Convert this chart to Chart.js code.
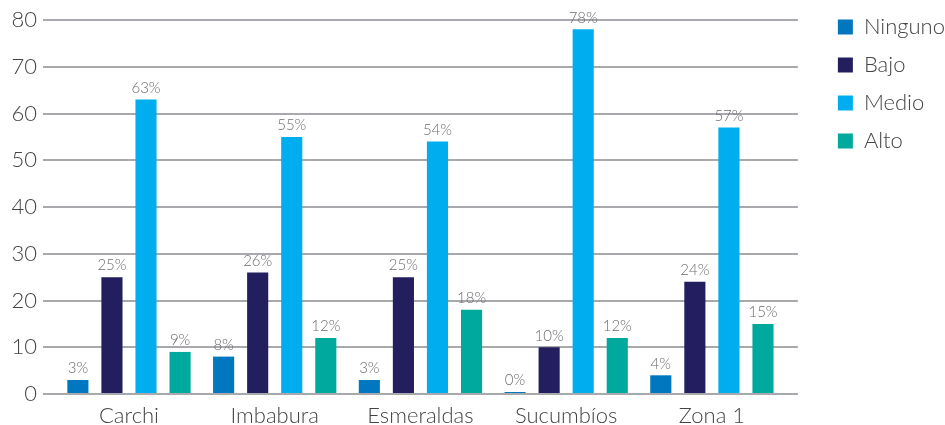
<!DOCTYPE html>
<html>
<head>
<meta charset="utf-8">
<script src="https://cdn.jsdelivr.net/npm/chart.js@4.4.1/dist/chart.umd.min.js"></script>
<style>
  html, body { margin: 0; padding: 0; background: #fff; }
  #wrap { width: 945px; height: 425px; }
</style>
</head>
<body>
<div id="wrap"><canvas id="c" width="945" height="425"></canvas></div>
<script>
// Provinces of Zona 1 and the share of each level (%)
const categories = ['Carchi', 'Imbabura', 'Esmeraldas', 'Sucumbíos', 'Zona 1'];
const ninguno = [3, 8, 3, 0, 4];
const bajo    = [25, 26, 25, 10, 24];
const medio   = [63, 55, 54, 78, 57];
const alto    = [9, 12, 18, 12, 15];
const yTicks  = [0, 10, 20, 30, 40, 50, 60, 70, 80];

const FONT = 'Lato, "Open Sans", sans-serif';

const toPoints = arr => arr.map((v, i) => ({ x: i, y: v }));

// Writes "NN%" just above each bar
const valueLabels = {
  id: 'valueLabels',
  afterDatasetsDraw(chart) {
    const ctx = chart.ctx;
    ctx.save();
    ctx.font = '300 15px ' + FONT;
    ctx.fillStyle = '#6d6e71';
    ctx.textAlign = 'center';
    ctx.textBaseline = 'bottom';
    chart.data.datasets.forEach((ds, di) => {
      const meta = chart.getDatasetMeta(di);
      meta.data.forEach((bar, i) => {
        const v = ds.data[i].y;
        ctx.fillText(v + '%', bar.x, bar.y - 4);
      });
    });
    ctx.restore();
  }
};

// Empty spacer axes: keep the legend clear of the plot and leave room above it
const spacer = (pos, size) => ({
  type: 'linear',
  position: pos,
  display: true,
  grid: { display: false },
  border: { display: false },
  ticks: { display: false },
  afterFit: s => { if (pos === 'right') s.width = size; else s.height = size; }
});

new Chart(document.getElementById('c'), {
  type: 'bar',
  data: {
    datasets: [
      { label: 'Ninguno', data: toPoints(ninguno), backgroundColor: '#0077bf', minBarLength: 2 },
      { label: 'Bajo',    data: toPoints(bajo),    backgroundColor: '#231e5e' },
      { label: 'Medio',   data: toPoints(medio),   backgroundColor: '#00aeef' },
      { label: 'Alto',    data: toPoints(alto),    backgroundColor: '#00a99d' }
    ]
  },
  options: {
    responsive: false,
    animation: false,
    devicePixelRatio: 1,
    layout: { padding: { left: 10, top: 0, right: -10, bottom: 0 } },
    datasets: {
      bar: { categoryPercentage: 0.935, barPercentage: 0.62, borderWidth: 0 }
    },
    scales: {
      x: {
        type: 'linear',
        min: -0.59,
        max: 4.59,
        offset: false,
        afterFit: s => { s.height = 31; },
        grid: { display: false },
        border: { display: false },
        ticks: {
          stepSize: 1,
          includeBounds: false,
          autoSkip: false,
          maxRotation: 0,
          padding: 1,
          color: '#444',
          font: { family: FONT, size: 22, weight: 300 },
          callback: v => (Number.isInteger(v) && categories[v] !== undefined) ? categories[v] : ''
        }
      },
      y: {
        min: 0,
        max: 80,
        afterBuildTicks: scale => { scale.ticks = yTicks.map(v => ({ value: v })); },
        afterFit: s => { s.width = 33; },
        grid: { color: '#a7a9ac', lineWidth: 2, drawTicks: false },
        border: { display: false },
        ticks: {
          padding: 6,
          color: '#444',
          font: { family: FONT, size: 22, weight: 300 }
        }
      },
      xTop: spacer('top', 20),
      yRight: spacer('right', 24)
    },
    plugins: {
      tooltip: { enabled: false },
      legend: {
        position: 'right',
        align: 'start',
        labels: {
          boxWidth: 15,
          boxHeight: 15,
          padding: 16,
          color: '#444',
          font: { family: FONT, size: 22, weight: 300 }
        }
      }
    }
  },
  plugins: [valueLabels]
});
</script>
</body>
</html>
